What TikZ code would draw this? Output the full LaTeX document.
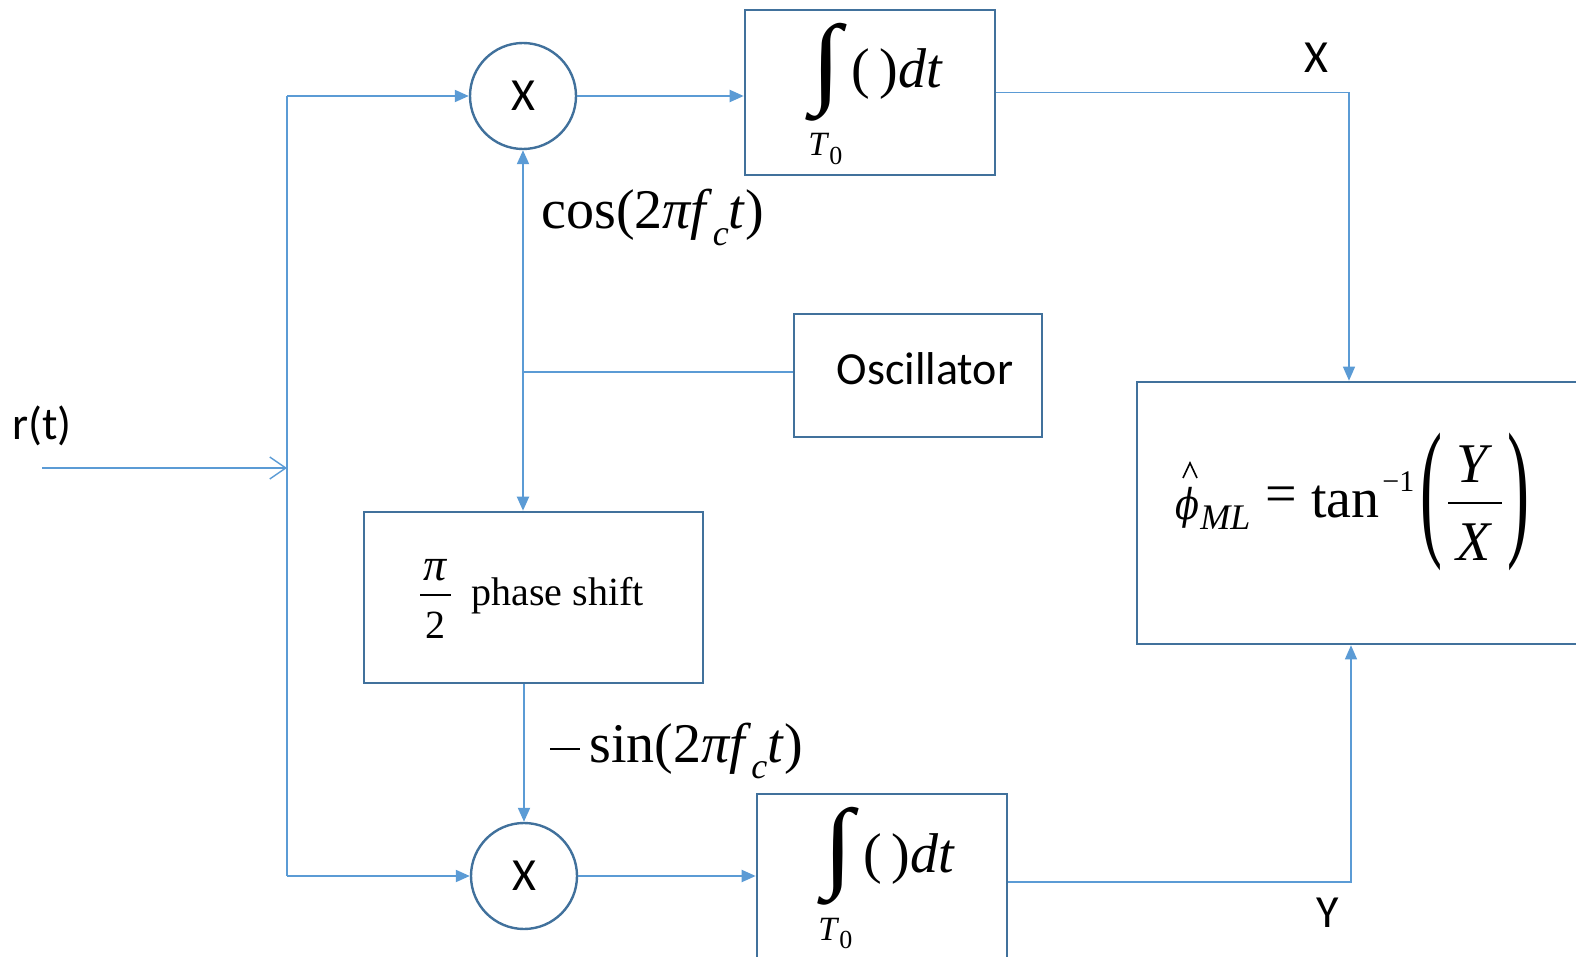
\RequirePackage{fix-cm}
\documentclass[tikz,border=0pt]{standalone}
\usepackage{graphicx}
\usepackage{fontspec}
\setmainfont{Liberation Serif}
\newfontfamily\calib{Carlito}
\newfontfamily\dvs{DejaVu Serif}
\usetikzlibrary{arrows.meta}
\definecolor{ln}{HTML}{5B9BD5}
\definecolor{bd}{HTML}{41719C}
\newcommand{\bigint}{\resizebox*{15pt}{49pt}{∫}}
\newcommand{\bigparen}[1]{\resizebox*{11pt}{69pt}{#1}}
\begin{document}
\begin{tikzpicture}[x=0.5pt,y=-0.5pt,
  box/.style={draw=bd, line width=1.3pt, inner sep=0, rectangle},
  mult/.style={circle, draw=bd, line width=1.2pt, minimum size=53pt, inner sep=0, font=\calib\fontsize{23}{23}\selectfont},
  conn/.style={draw=ln, line width=1pt, -{Triangle[length=7pt,width=6pt]}},
  thinconn/.style={draw=ln, line width=0.6pt, -{Triangle[length=7pt,width=6pt]}},
  thinln/.style={draw=ln, line width=0.6pt},
  lbl/.style={font=\calib\fontsize{23}{23}\selectfont, inner sep=0},
  eq/.style={inner sep=0, font=\fontsize{28}{30}\selectfont},
  small/.style={inner sep=0, font=\fontsize{17}{20}\selectfont},
  ps/.style={inner sep=0, font=\fontsize{20}{22}\selectfont}]
\useasboundingbox (0,0) rectangle (1576,957);
\clip (0,0) rectangle (1576,957);

% blocks
\node[mult] (m1) at (523,96) {X};
\node[mult] (m2) at (524,876) {X};
\node[box, minimum width=125pt, minimum height=82.5pt] (int1) at (870,92.5) {};
\node[box, minimum width=125pt, minimum height=103pt] (int2) at (882,897) {};
\node[box, minimum width=124pt, minimum height=61.5pt] (osc) at (918,375.5) {};
\node[box, minimum width=169.5pt, minimum height=85.5pt] (ph) at (533.5,597.5) {};
\node[box, minimum width=241.5pt, minimum height=131pt] (rbox) at (1378.5,513) {};

% texts
\node[lbl, anchor=base west] (rt) at (12,440) {r(t)};
\node[lbl, anchor=base] (osct) at (925,385) {Oscillator};
\node[lbl] (xl) at (1316,58) {X};
\node[lbl] (yl) at (1328,913) {Y};

\node[inner sep=0] (i1s) at (826,72) {\bigint};
\node[eq, anchor=base west] (i1t) at (851,88) {(\,)\textit{dt}};
\node[small, anchor=base west] (i1l) at (808,156) {\textit{T}\raisebox{-0.25em}{\fontsize{13}{13}\selectfont 0}};
\node[inner sep=0] (i2s) at (838,856) {\bigint};
\node[eq, anchor=base west] (i2t) at (863,872) {(\,)\textit{dt}};
\node[small, anchor=base west] (i2l) at (818,940) {\textit{T}\raisebox{-0.25em}{\fontsize{13}{13}\selectfont 0}};

\node[eq, anchor=base west] (cosl) at (541,229) {cos(2\textit{πf}\raisebox{-0.3em}{\fontsize{18}{18}\selectfont\textit{c}}\textit{t})};
\node[eq, anchor=base west] (sinl) at (589,762) {sin(2\textit{πf}\raisebox{-0.3em}{\fontsize{18}{18}\selectfont\textit{c}}\textit{t})};
\coordinate (mn1) at (550,749);
\coordinate (mn2) at (580,749);
\draw[line width=1pt] (mn1) -- (mn2);

% pi/2 phase shift
\node[inner sep=0, anchor=base, font=\fontsize{23}{24}\selectfont\itshape] (pinum) at (435,581) {π};
\node[ps, anchor=base] (piden) at (435,638) {2};
\coordinate (pbl) at (420,595);
\coordinate (pbr) at (451,595);
\draw[line width=0.8pt] (pbl) -- (pbr);
\node[ps, anchor=base west] (pht) at (471,605) {phase shift};

% right-hand formula
\node[inner sep=0] (phi) at (1187,508) {\resizebox*{12pt}{20.5pt}{\dvs\itshape ϕ}};
\coordinate (h1) at (1183,478);
\coordinate (h2) at (1190,463);
\coordinate (h3) at (1197,478);
\draw[line width=0.8pt, line join=miter] (h1) -- (h2) -- (h3);
\node[inner sep=0, anchor=base west, font=\fontsize{18}{18}\selectfont\itshape] (ml) at (1200,530) {ML};
\node[eq] (eqs) at (1281,500) {=};
\node[eq, anchor=base west] (tan) at (1311,517) {tan};
\node[inner sep=0, anchor=base west, font=\fontsize{15}{15}\selectfont] (m1s) at (1382,492) {−1};
\node[inner sep=0, font=\fontsize{28}{30}\selectfont] (lp) at (1431,502) {\bigparen{(}};
\node[inner sep=0, font=\fontsize{28}{30}\selectfont] (rp) at (1518,502) {\bigparen{)}};
\node[eq, anchor=base] (ynum) at (1475,482) {\textit{Y}};
\node[eq, anchor=base] (xden) at (1474,560) {\textit{X}};
\coordinate (barl) at (1448,503);
\coordinate (barr) at (1502,503);
\draw[line width=1pt] (barl) -- (barr);

% connectors
\coordinate (in) at (42,468);
\coordinate (jr) at (287,468);
\coordinate (vt) at (287,96);
\coordinate (vb) at (287,876);
\draw[draw=ln, line width=0.7pt, -{Straight Barb[length=8pt,width=11pt]}] (in) -- (jr);
\draw[draw=ln, line width=1pt] (vt) -- (vb);
\draw[conn] (vt) -- (m1.west);
\draw[conn] (vb) -- (m2.west);
\draw[conn] (m1.east) -- (int1.west |- m1.east);
\draw[conn] (m2.east) -- (int2.west |- m2.east);

\coordinate (jn) at (523,372);
\draw[thinln] (osc.west |- jn) -- (jn);
\draw[conn] (jn) -- (m1.south);
\draw[conn] (jn) -- (ph.north -| jn);
\draw[conn] (ph.south -| m2) -- (m2.north);

\coordinate (xo) at (1349,92.5);
\coordinate (yo) at (1351,882);
\draw[thinconn] (int1.east |- xo) -- (xo) -- (rbox.north -| xo);
\draw[thinconn] (int2.east |- yo) -- (yo) -- (rbox.south -| yo);
\end{tikzpicture}
\end{document}
